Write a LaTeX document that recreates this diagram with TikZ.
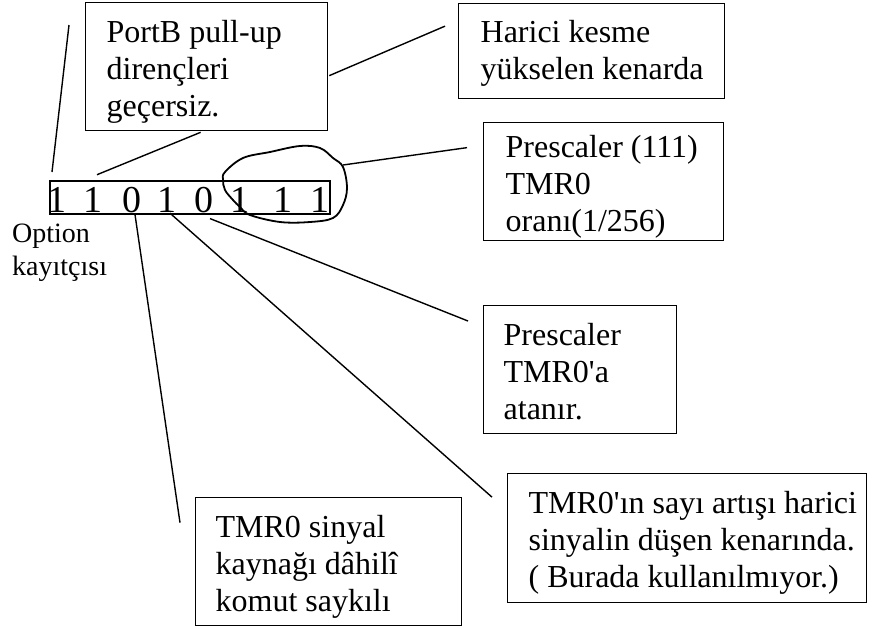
\documentclass[tikz,border=0pt]{standalone}
\usepackage{fontspec}
\setmainfont{Liberation Serif}
\usetikzlibrary{calc}
% text block of a note box:
% #1 width, #2 top edge to first baseline, #3 left padding,
% #4 last baseline to bottom edge, #5 the lines
\newcommand\notetext[5]{%
  \parbox[t]{#1pt}{\leftskip=#3pt\rightskip=-60pt plus 1fil
    \parfillskip=0pt plus 1fil\baselineskip=37pt
    \rule{0pt}{#2pt}#5\rule[-#4pt]{0pt}{#4pt}\par}}

\begin{document}
\begin{tikzpicture}[x=1pt,y=-1pt,
  note/.style={draw, line width=1.3pt, inner sep=0pt, anchor=north west,
               font=\fontsize{32}{37}\selectfont},
  bit/.style={inner sep=0pt, anchor=base, font=\fontsize{38}{38}\selectfont},
  lead/.style={line width=1.4pt},
  loop/.style={line width=1.8pt}]

\useasboundingbox (0,0) rectangle (887,629);

% option register with its eight bits
\node[draw, line width=1.8pt, inner sep=0pt, minimum width=280pt,
      minimum height=33pt, anchor=north west] (reg) at (49,180) {};
\node[bit] (b1) at (57,212) {1};
\node[bit] (b2) at (93,212) {1};
\node[bit] (b3) at (132,212) {0};
\node[bit] (b4) at (167,212) {1};
\node[bit] (b5) at (204,212) {0};
\node[bit] (b6) at (240,212) {1};
\node[bit] (b7) at (283,212) {1};
\node[bit] (b8) at (320,212) {1};

\node[inner sep=0pt, anchor=north west, font=\fontsize{28}{33}\selectfont]
  (optlbl) at (12,212)
  {\parbox[t]{140pt}{\baselineskip=33pt\rule{0pt}{30pt}Option\\kayıtçısı}};

% explanation boxes
\node[note] (portb) at (85,2)
  {\notetext{242}{40}{21}{14}{PortB pull-up\\dirençleri\\geçersiz.}};
\node[note] (harici) at (458,3)
  {\notetext{266}{39}{22}{19}{Harici kesme\\yükselen kenarda}};
\node[note] (pre111) at (483,122)
  {\notetext{240}{35}{22}{9}{Prescaler (111)\\TMR0\\oranı(1/256)}};
\node[note] (pretmr) at (483,305)
  {\notetext{193}{40}{20}{14}{Prescaler\\TMR0\textquotesingle a\\atanır.}};
\node[note] (tmrin) at (507,473)
  {\notetext{359}{40}{21}{15}{TMR0\textquotesingle ın sayı artışı harici\\sinyalin düşen kenarında.\\( Burada kullanılmıyor.)}};
\node[note] (tmrsig) at (195,497)
  {\notetext{266}{40}{20}{14}{TMR0 sinyal\\kaynağı dâhilî\\komut saykılı}};

% free ends of the leader lines
\coordinate (t1) at (69,25);
\coordinate (t1b) at (52,172);
\coordinate (e2) at ($(b2.north)+(4,-12)$);
\coordinate (e3) at ($(harici.west)+(-13,-25)$);
\coordinate (s5) at (343,165);
\coordinate (e5) at ($(pre111.west)+(-16,-34)$);
\coordinate (s6) at ($(b3.south)+(3,2)$);
\coordinate (e6) at ($(tmrsig.west)+(-15,-39)$);
\coordinate (s7) at ($(b4.south)+(3,1)$);
\coordinate (e7) at ($(tmrin.west)+(-15,-41)$);
\coordinate (s8) at ($(b5.south)+(6,6)$);
\coordinate (e8) at (468,321);

% leader lines
\draw[lead] (t1) -- (t1b);
\draw[lead] ($(portb.south)+(-6,1)$) -- (e2);
\draw[lead] ($(portb.east)+(1,9)$) -- (e3);
\draw[lead] (s5) -- (e5);
\draw[lead] (s6) -- (e6);
\draw[lead] (s7) -- (e7);
\draw[lead] (s8) -- (e8);

% hand-drawn loop round the prescaler bits
\draw[loop] plot[smooth cycle, tension=0.6] coordinates {
  (225,172) (243,158) (270,152) (300,146) (320,148) (333,158) (343,167)
  (347,188) (343,205) (333,218) (310,222) (280,222) (250,215) (240,207)
  (233,200) (225,190) (223,180)};

\end{tikzpicture}
\end{document}
